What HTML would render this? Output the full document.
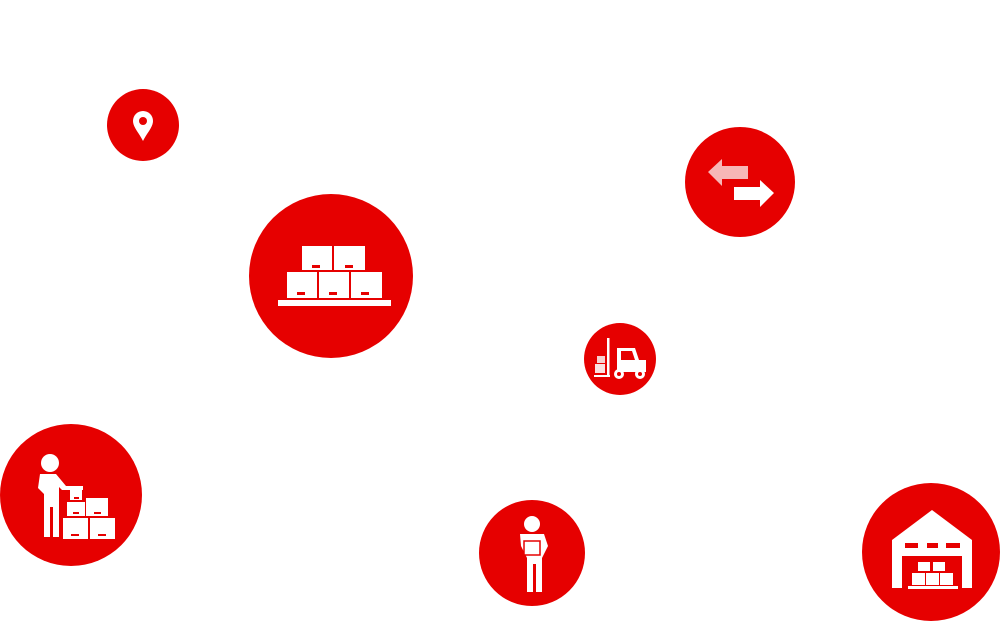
<!DOCTYPE html>
<html><head><style>html,body{margin:0;padding:0;background:#fff;}svg{display:block}</style></head>
<body>
<svg width="1001" height="621" viewBox="0 0 1001 621" xmlns="http://www.w3.org/2000/svg">
<g fill="#e60000">
<circle cx="143" cy="125" r="36"/>
<circle cx="331" cy="276" r="82"/>
<circle cx="740" cy="182" r="55"/>
<circle cx="620" cy="359" r="36"/>
<circle cx="71" cy="495" r="71"/>
<circle cx="532" cy="553" r="53"/>
<circle cx="931" cy="552" r="69"/>
</g>
<!-- pin -->
<path d="M143 111 a10 10 0 0 1 10 10 c0 6 -6 12 -10 20 c-4 -8 -10 -14 -10 -20 a10 10 0 0 1 10 -10z" fill="#fff"/>
<circle cx="143" cy="121" r="4" fill="#e60000"/>
<!-- pallet -->
<g fill="#fff">
<rect x="302" y="246" width="30" height="24"/><rect x="334" y="246" width="31" height="24"/>
<rect x="287" y="272" width="30" height="26"/><rect x="319" y="272" width="30" height="26"/><rect x="351" y="272" width="31" height="26"/>
<rect x="278" y="300" width="113" height="6"/>
</g>
<g fill="#e60000">
<rect x="312" y="265" width="8" height="3"/><rect x="345" y="265" width="8" height="3"/>
<rect x="297" y="292" width="8" height="3"/><rect x="329" y="292" width="8" height="3"/><rect x="361" y="292" width="8" height="3"/>
</g>
<!-- arrows -->
<path d="M708 172 l14 -13 v7 h26 v13 h-26 v7z" fill="#f7b6b6"/>
<path d="M774 193 l-14 -13 v7 h-26 v13 h26 v7z" fill="#fff"/>
<!-- forklift -->
<g fill="#fff">
<rect x="607" y="338" width="2.5" height="38"/>
<rect x="597" y="356" width="8" height="7" fill="#f7d0d0"/>
<rect x="595" y="364" width="10" height="9" fill="#fbe0e0"/>
<rect x="594" y="375" width="16" height="2"/>
<path d="M617 348 h18 l4 12 h7 v12 h-29z"/>
<circle cx="619" cy="374" r="5"/><circle cx="640" cy="374" r="5"/>
</g>
<path d="M621 351 h11 l3 9 h-14z" fill="#e60000"/>
<circle cx="619" cy="374" r="2" fill="#e60000"/><circle cx="640" cy="374" r="2" fill="#e60000"/>
<!-- worker -->
<g fill="#fff">
<circle cx="50" cy="463" r="9"/>
<path d="M40 474 h16 l10 12 h17 v4 h-21 l-3 -3 v50 h-6 v-30 h-3 v30 h-6 v-43 l-6 -6z"/>
<rect x="70" y="490" width="12" height="10"/><rect x="67" y="502" width="18" height="14"/><rect x="86" y="498" width="22" height="18"/>
<rect x="63" y="518" width="25" height="21"/><rect x="90" y="518" width="25" height="21"/>
</g>
<g fill="#e60000"><rect x="74" y="497" width="5" height="2"/><rect x="73" y="512" width="6" height="2"/><rect x="94" y="512" width="7" height="2"/><rect x="71" y="534" width="8" height="2"/><rect x="98" y="534" width="8" height="2"/></g>
<!-- person carrying -->
<g fill="#fff">
<circle cx="532" cy="524" r="8"/>
<path d="M520 534 h24 l4 12 l-6 12 v34 h-6 v-28 h-3 v28 h-6 v-34 l-6 -12z"/>
</g>
<rect x="524" y="541" width="16" height="14" fill="#fff" stroke="#e60000" stroke-width="1.5"/>
<!-- warehouse -->
<path d="M932 510 l40 30 v48 h-10 v-32 h-60 v32 h-10 v-48z" fill="#fff"/>
<g fill="#e60000"><rect x="905" y="543" width="13" height="5"/><rect x="927" y="543" width="11" height="5"/><rect x="946" y="543" width="14" height="5"/></g>
<g fill="#fff">
<rect x="918" y="562" width="12" height="9"/><rect x="933" y="562" width="12" height="9"/>
<rect x="912" y="573" width="13" height="12"/><rect x="926" y="573" width="13" height="12"/><rect x="940" y="573" width="13" height="12"/>
<rect x="908" y="586" width="50" height="3"/>
</g>
</svg>
</body></html>
